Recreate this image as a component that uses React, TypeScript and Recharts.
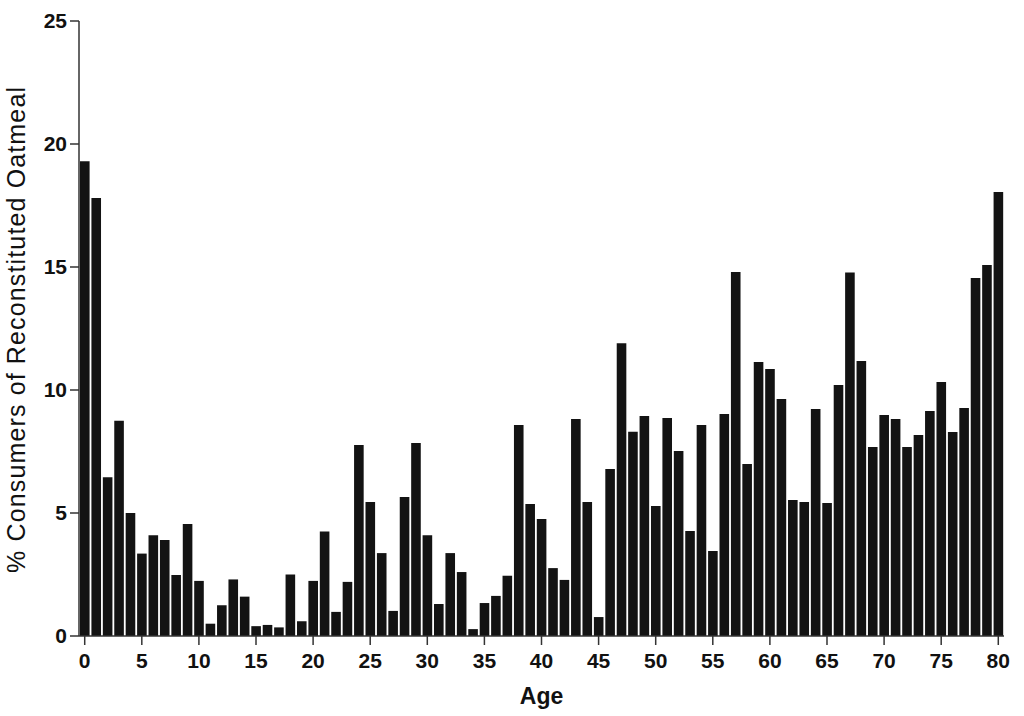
import { BarChart, Bar, XAxis, YAxis } from 'recharts';

// ages 0..80, one bar each
const ages = [
  0, 1, 2, 3, 4, 5, 6, 7, 8, 9, 10, 11, 12, 13, 14, 15, 16, 17, 18, 19,
  20, 21, 22, 23, 24, 25, 26, 27, 28, 29, 30, 31, 32, 33, 34, 35, 36, 37, 38, 39,
  40, 41, 42, 43, 44, 45, 46, 47, 48, 49, 50, 51, 52, 53, 54, 55, 56, 57, 58, 59,
  60, 61, 62, 63, 64, 65, 66, 67, 68, 69, 70, 71, 72, 73, 74, 75, 76, 77, 78, 79, 80,
];

// % consumers of reconstituted oatmeal
const pctConsumers = [
  19.3, 17.8, 6.45, 8.75, 5.0, 3.35, 4.1, 3.9, 2.48, 4.55,
  2.24, 0.5, 1.25, 2.3, 1.6, 0.4, 0.45, 0.35, 2.5, 0.6,
  2.24, 4.25, 0.98, 2.2, 7.76, 5.45, 3.37, 1.02, 5.65, 7.85,
  4.1, 1.3, 3.37, 2.6, 0.28, 1.34, 1.63, 2.45, 8.58, 5.37,
  4.76, 2.76, 2.28, 8.82, 5.45, 0.77, 6.79, 11.9, 8.3, 8.94,
  5.28, 8.86, 7.52, 4.27, 8.58, 3.46, 9.02, 14.8, 6.99, 11.14,
  10.85, 9.63, 5.53, 5.45, 9.23, 5.41, 10.2, 14.78, 11.18, 7.68,
  8.98, 8.82, 7.68, 8.17, 9.15, 10.33, 8.29, 9.27, 14.55, 15.08, 18.05,
];

const yTicks = [0, 5, 10, 15, 20, 25];

const data = ages.map((age, i) => ({ age, pct: pctConsumers[i] }));

const font = '"Liberation Sans", Arial, Helvetica, sans-serif';
const tickStyle = { fill: '#111', fontSize: 21, fontWeight: 700, fontFamily: font };

function YTitle() {
  return (
    <text
      x={25}
      y={330}
      transform="rotate(-90 25 330)"
      textAnchor="middle"
      textLength={486}
      lengthAdjust="spacing"
      style={{ fill: '#111', fontSize: 25, fontFamily: font }}
    >
      % Consumers of Reconstituted Oatmeal
    </text>
  );
}

export default function App() {
  return (
    <div style={{ width: 1024, height: 716, background: '#fff' }}>
      <style>{'body{margin:0}'}</style>
      <BarChart
        width={1024}
        height={716}
        data={data}
        margin={{ top: 21, right: 20, bottom: 0, left: 0 }}
      >
        <XAxis
          dataKey="age"
          interval={4}
          height={80}
          tick={tickStyle}
          tickSize={9}
          tickMargin={8}
          stroke="#333"
          strokeWidth={1.5}
          label={{
            value: 'Age',
            position: 'insideBottom',
            offset: 12,
            style: { fill: '#111', fontSize: 23, fontWeight: 700, fontFamily: font },
          }}
        />
        <YAxis
          width={79}
          domain={[0, 25]}
          ticks={yTicks}
          tick={tickStyle}
          tickSize={9}
          tickMargin={3}
          stroke="#333"
          strokeWidth={1.5}
          label={{ content: () => <YTitle /> }}
        />
        <Bar dataKey="pct" fill="#131313" barSize={9.6} isAnimationActive={false} />
      </BarChart>
    </div>
  );
}
